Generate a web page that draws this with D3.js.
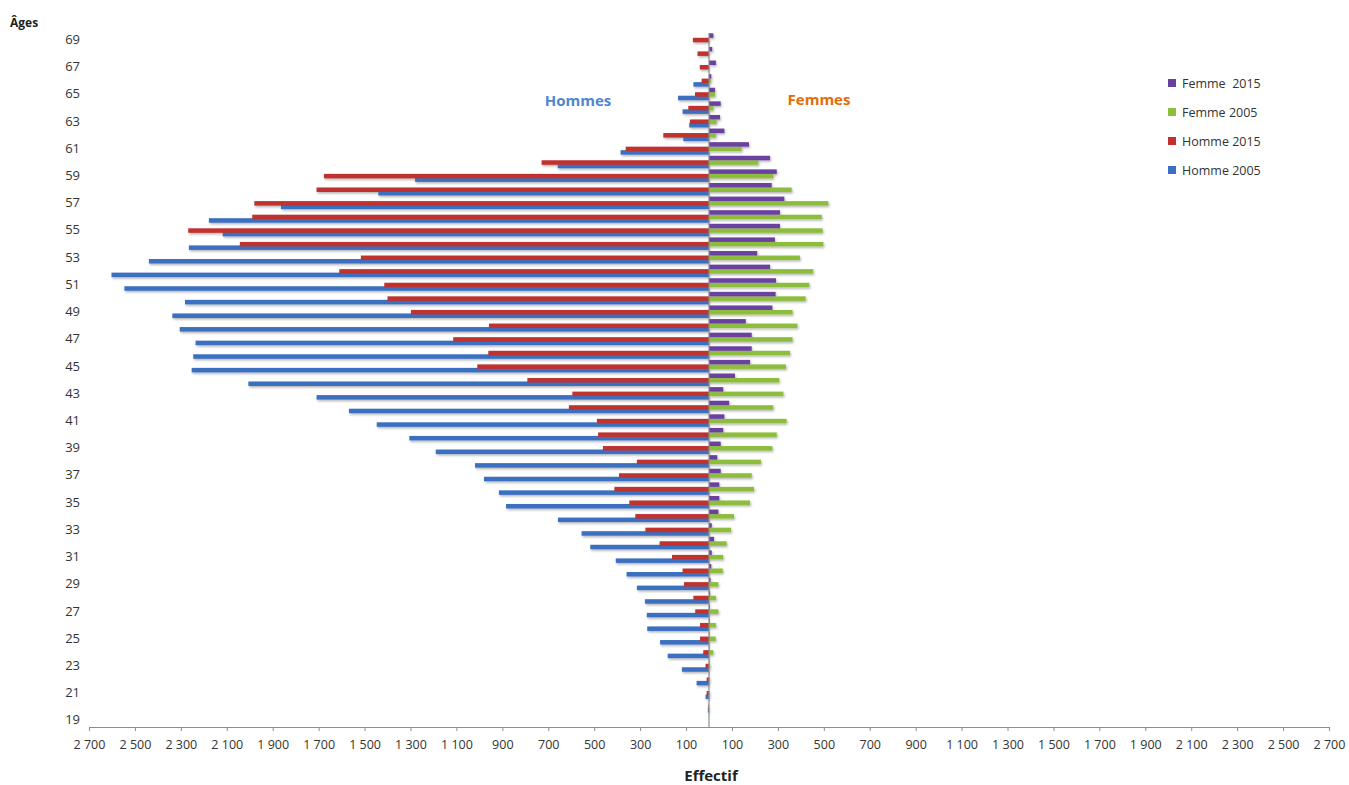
<!DOCTYPE html>
<html><head><meta charset="utf-8">
<script src="https://cdn.jsdelivr.net/npm/d3@7"></script>
<style>
body{margin:0;background:#fff;}
svg{display:block;font-family:'Open Sans',sans-serif;}
</style>
</head><body>
<svg id="chart" width="1349" height="785"></svg>
<script>
// ---- DATA ----
const ages = [19,20,21,22,23,24,25,26,27,28,29,30,31,32,33,34,35,36,37,38,39,40,41,42,43,44,45,46,47,48,49,50,51,52,53,54,55,56,57,58,59,60,61,62,63,64,65,66,67,68,69];
const hommes2005 = [0,5,15,54,118,180,213,269,271,279,314,359,406,517,555,658,884,915,980,1019,1190,1305,1447,1568,1709,2006,2253,2246,2236,2305,2337,2282,2546,2602,2439,2265,2118,2178,1864,1440,1280,659,385,112,86,115,135,68,0,0,0];
const hommes2015 = [0,3,10,10,15,25,39,39,60,68,109,115,161,215,277,321,347,412,392,314,462,483,488,610,595,791,1009,961,1114,958,1298,1400,1414,1610,1516,2043,2268,1989,1980,1709,1677,729,363,199,83,90,61,32,40,50,70];
const femmes2005 = [0,0,2,3,5,19,29,30,41,30,41,60,62,77,96,109,179,196,186,226,276,295,338,280,324,306,335,353,364,385,364,421,437,454,396,498,495,491,520,360,280,215,142,30,33,19,27,8,0,0,0];
const femmes2015 = [0,0,0,1,2,2,2,3,4,5,7,10,12,22,12,41,45,45,51,36,51,62,67,88,62,113,179,186,186,160,276,290,292,266,210,287,309,309,328,273,295,266,174,67,48,51,26,10,30,14,19];
const ageTickValues = [19,21,23,25,27,29,31,33,35,37,39,41,43,45,47,49,51,53,55,57,59,61,63,65,67,69];
const effectifTickValues = [-2700,-2500,-2300,-2100,-1900,-1700,-1500,-1300,-1100,-900,-700,-500,-300,-100,100,300,500,700,900,1100,1300,1500,1700,1900,2100,2300,2500,2700];
const legendNames = ["Femme  2015","Femme 2005","Homme 2015","Homme 2005"];

// ---- STYLE ----
const COL = {f15:"#6b3fa0", f05:"#8dbd3c", h15:"#c0312f", h05:"#3b6fc0"};
const legendColors = [COL.f15, COL.f05, COL.h15, COL.h05];

const svg = d3.select("#chart");
const defs = svg.append("defs");
const f = defs.append("filter").attr("id","sh").attr("x","-5%").attr("y","-50%").attr("width","110%").attr("height","250%");
f.append("feDropShadow").attr("dx",1).attr("dy",1.5).attr("stdDeviation",0.8).attr("flood-color","#000").attr("flood-opacity",0.3);

const x = d3.scaleLinear().domain([-2700,2700]).range([89,1329]);
const y = d3.scaleBand().domain(ages).range([727,33]).padding(0);
const half = y.bandwidth()/2;

const rows = ages.map((a,i)=>({age:a, h05:hommes2005[i], h15:hommes2015[i], f05:femmes2005[i], f15:femmes2015[i]}));

// sub-bar offsets relative to band center [top, height]
const off = {f15:[-6.5,4.5], f05:[-2,4.5], h15:[-2,4.5], h05:[1.5,4.5]};

const bars = svg.append("g").attr("filter","url(#sh)");
function drawMale(key){
  bars.append("g").selectAll("rect").data(rows.filter(d=>d[key]>0)).join("rect")
    .attr("x", d=>x(-d[key])).attr("width", d=>x(0)-x(-d[key]))
    .attr("y", d=>y(d.age)+half+off[key][0]).attr("height", off[key][1])
    .attr("fill", COL[key]);
}
function drawFemale(key){
  bars.append("g").selectAll("rect").data(rows.filter(d=>d[key]>0)).join("rect")
    .attr("x", x(0)).attr("width", d=>x(d[key])-x(0))
    .attr("y", d=>y(d.age)+half+off[key][0]).attr("height", off[key][1])
    .attr("fill", COL[key]);
}
drawMale("h05"); drawMale("h15");
drawFemale("f05"); drawFemale("f15");

// center vertical axis
svg.append("line").attr("x1",x(0)).attr("x2",x(0)).attr("y1",33).attr("y2",727)
  .attr("stroke","#8c8c8c").attr("stroke-width",1.2);

// x axis
const loc = d3.formatLocale({decimal:",",thousands:"\u00a0",grouping:[3],currency:["","€"]});
const fmt = loc.format(",d");
const xAxis = svg.append("g").attr("transform","translate(0,727)")
  .call(d3.axisBottom(x).tickValues(effectifTickValues).tickFormat(d=>fmt(Math.abs(d))).tickSize(4).tickSizeOuter(0).tickPadding(9));
xAxis.select(".domain").attr("stroke","#8c8c8c").attr("stroke-width",1.2);
xAxis.selectAll(".tick line").attr("stroke","#8c8c8c");
xAxis.selectAll("text").attr("fill","#333").style("font-size","12.5px").style("font-family","'Open Sans',sans-serif");

// y axis labels
const yAxis = svg.append("g").attr("transform","translate(82,0)")
  .call(d3.axisLeft(y).tickValues(ageTickValues).tickSize(0).tickPadding(2));
yAxis.select(".domain").remove();
yAxis.selectAll("text").attr("fill","#333").style("font-size","13px").style("font-family","'Open Sans',sans-serif");

// titles
svg.append("text").attr("x",10).attr("y",27).text("Âges")
  .style("font-size","12px").style("font-weight","bold").attr("fill","#222");
svg.append("text").attr("x",x(0)+2).attr("y",781).attr("text-anchor","middle").text("Effectif")
  .style("font-size","15px").style("font-weight","bold").attr("fill","#222");
svg.append("text").attr("x",578).attr("y",106).attr("text-anchor","middle").text("Hommes")
  .style("font-size","15px").style("font-weight","bold").attr("fill","#4f86d0");
svg.append("text").attr("x",819).attr("y",105).attr("text-anchor","middle").text("Femmes")
  .style("font-size","15px").style("font-weight","bold").attr("fill","#e46c0a");

// legend
const lg = svg.append("g").attr("transform","translate(1168,0)");
const lgY = d3.scalePoint().domain(legendNames).range([83,170]);
legendNames.forEach((n,i)=>{
  lg.append("rect").attr("x",0).attr("y",lgY(n)-4).attr("width",8).attr("height",8).attr("fill",legendColors[i]);
  lg.append("text").attr("x",14).attr("y",lgY(n)+4.5).text(n).attr("xml:space","preserve")
    .style("white-space","pre").style("font-size","12.5px").attr("fill","#333");
});
</script>
</body></html>
